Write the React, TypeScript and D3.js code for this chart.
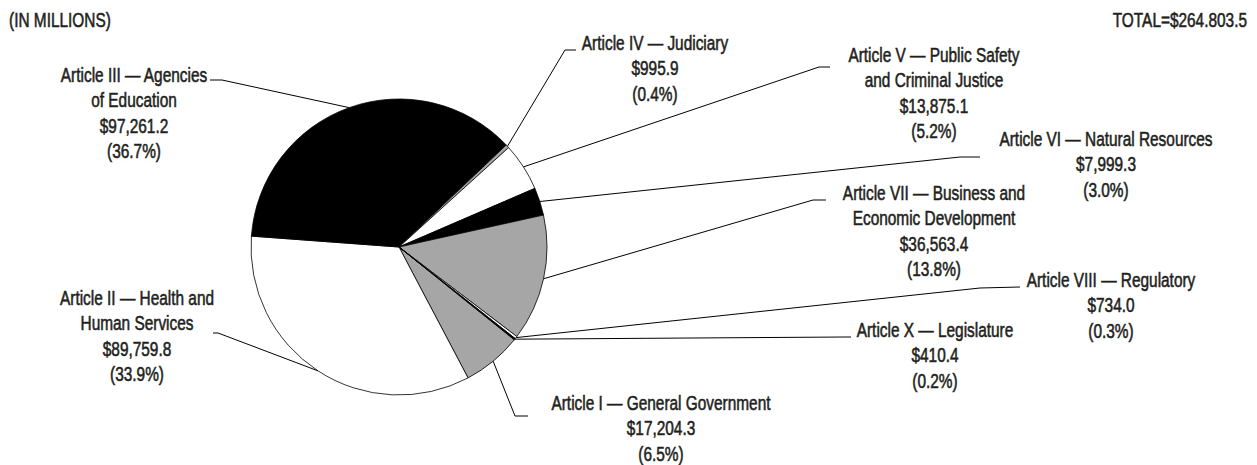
import React from "react";
import * as d3 from "d3";

// Budget by article, in millions of dollars
const articles = ["I", "II", "III", "IV", "V", "VI", "VII", "VIII", "X"];
const titles = [
  ["Article I — General Government"],
  ["Article II — Health and", "Human Services"],
  ["Article III — Agencies", "of Education"],
  ["Article IV — Judiciary"],
  ["Article V — Public Safety", "and Criminal Justice"],
  ["Article VI — Natural Resources"],
  ["Article VII — Business and", "Economic Development"],
  ["Article VIII — Regulatory"],
  ["Article X — Legislature"],
];
const amounts = [17204.3, 89759.8, 97261.2, 995.9, 13875.1, 7999.3, 36563.4, 734.0, 410.4];
const unitNote = "(IN MILLIONS)";
const totalNote = "TOTAL=$264.803.5";

// Label placement: text centre x, first baseline y, leader elbow and leader end
const labelLayout: Record<string, { x: number; y: number; elbow: [number, number]; end: [number, number] }> = {
  I: { x: 661, y: 410, elbow: [515, 416], end: [528, 416] },
  II: { x: 137, y: 305, elbow: [218, 333], end: [213, 333] },
  III: { x: 134, y: 82, elbow: [222, 80], end: [210, 80] },
  IV: { x: 655, y: 50, elbow: [565, 50], end: [576, 50] },
  V: { x: 934, y: 62, elbow: [819, 67], end: [830, 67] },
  VI: { x: 1106, y: 146, elbow: [960, 157], end: [980, 157] },
  VII: { x: 934, y: 200, elbow: [813, 200], end: [826, 200] },
  VIII: { x: 1111, y: 287, elbow: [980, 288], end: [1020, 287] },
  X: { x: 935, y: 337, elbow: [845, 337], end: [851, 337] },
};

const W = 1257;
const H = 465;
const cx = 399;
const cy = 247;
const radius = 148;
const lineGap = 25.5;
const fills = ["#a6a6a6", "#ffffff", "#000000"];
const ink = "#231f20";
const font = "'Liberation Sans', Arial, sans-serif";
const fontSize = 19.5;
// horizontal squeeze that turns the regular face into a condensed one
const squeeze = 0.79;

export default function App() {
  const total = d3.sum(amounts);
  const start = (128.8 * Math.PI) / 180;
  const pie = d3
    .pie<number>()
    .sort(null)
    .value((d) => d)
    .startAngle(start)
    .endAngle(start + 2 * Math.PI);
  const slices = pie(amounts);
  const arc = d3.arc<d3.PieArcDatum<number>>().innerRadius(0).outerRadius(radius);
  const rim = d3.arc<d3.PieArcDatum<number>>().innerRadius(radius).outerRadius(radius);
  const money = d3.format(",.1f");
  const pct = d3.format(".1%");
  const leader = d3.line();

  return (
    <svg
      width={W}
      height={H}
      style={{ position: "absolute", left: 0, top: 0, background: "#fff" }}
      fontFamily={font}
      fontSize={fontSize}
    >
      <g fill={ink} stroke={ink} strokeWidth={0.55}>
        <text transform={`translate(9,27) scale(${squeeze},1)`}>{unitNote}</text>
        <text transform={`translate(1247,27) scale(${squeeze},1)`} textAnchor="end">{totalNote}</text>
      </g>

      <g transform={`translate(${cx},${cy})`}>
        {slices.map((s, i) => (
          <path key={articles[i]} d={arc(s) || ""} fill={fills[i % 3]} stroke="#000" strokeWidth={0.8} strokeLinejoin="round" />
        ))}
      </g>

      {slices.map((s, i) => {
        const lay = labelLayout[articles[i]];
        const [px, py] = rim.centroid(s);
        const pts: [number, number][] = [[cx + px, cy + py], lay.elbow, lay.end];
        return <path key={`l${i}`} d={leader(pts) || ""} fill="none" stroke="#000" strokeWidth={1} />;
      })}

      <g fill={ink} stroke={ink} strokeWidth={0.55}>
        {slices.map((s, i) => {
          const lay = labelLayout[articles[i]];
          const lines = [...titles[i], `$${money(amounts[i])}`, `(${pct(amounts[i] / total)})`];
          return (
            <text key={`t${i}`} textAnchor="middle" transform={`translate(${lay.x},0) scale(${squeeze},1)`}>
              {lines.map((t, j) => (
                <tspan key={j} x={0} y={lay.y + j * lineGap}>
                  {t}
                </tspan>
              ))}
            </text>
          );
        })}
      </g>
    </svg>
  );
}
